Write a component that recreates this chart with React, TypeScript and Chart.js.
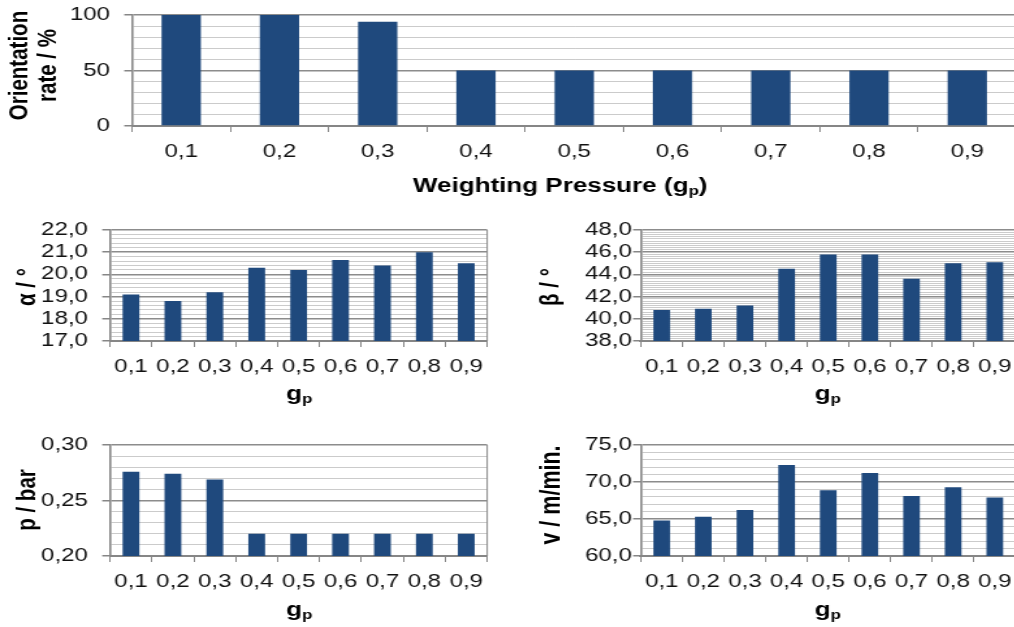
import React, { useEffect, useRef } from 'react';
import { Chart, registerables } from 'chart.js';

Chart.register(...registerables);

// ---------- data ----------
const gpLabels = ['0,1', '0,2', '0,3', '0,4', '0,5', '0,6', '0,7', '0,8', '0,9'];

const orientationRate = [100, 100, 94, 50, 50, 50, 50, 50, 50];
const alphaDeg = [19.1, 18.8, 19.2, 20.3, 20.2, 20.65, 20.4, 21.0, 20.5];
const betaDeg = [40.8, 40.9, 41.2, 44.5, 45.8, 45.8, 43.6, 45.0, 45.1];
const pressureBar = [0.276, 0.274, 0.269, 0.22, 0.22, 0.22, 0.22, 0.22, 0.22];
const speedMMin = [64.8, 65.3, 66.2, 72.3, 68.9, 71.2, 68.1, 69.3, 67.9];

const orientationMajorTicks = [0, 50, 100];
const alphaMajorTicks = [17, 18, 19, 20, 21, 22];
const betaMajorTicks = [38, 40, 42, 44, 46, 48];
const pressureMajorTicks = [0.2, 0.25, 0.3];
const speedMajorTicks = [60, 65, 70, 75];

// ---------- style ----------
const S = 1.3; // horizontal stretch of the picture
const FONT = "'Liberation Sans', Arial, Helvetica, sans-serif";
const BAR = '#1F497D';
const MAJOR = '#8c8c8c';
const MINOR = '#cbcbcb';
const AXIS = '#868686';
const TICK_SIZE = 18.5;
const TITLE_SIZE = 20;
const SUB_SIZE = 13;

Chart.defaults.font.family = FONT;
Chart.defaults.color = '#111';

type Panel = {
  id: string;
  values: number[];
  majorTicks: number[];
  minorStep: number;
  decimals: number;
  box: [number, number, number, number]; // screen left, top, width, height
  plot: [number, number, number, number]; // screen left, top, right, bottom
  yTitle: string[];
  yTitleX: number[];
  yTitleY: number;
  yTitleSize: number;
  xTitle: [string, string, string];
  xTitleX: number;
  xTitleBase: number;
  labelPad: number;
};

const panels: Panel[] = [
  {
    id: 'orientation',
    values: orientationRate,
    majorTicks: orientationMajorTicks,
    minorStep: 10,
    decimals: 0,
    box: [0, 0, 1017, 205],
    plot: [132, 15, 1016, 126],
    yTitle: ['Orientation', 'rate / %'],
    yTitleX: [20, 48],
    yTitleY: 65.5,
    yTitleSize: 20.5,
    xTitle: ['Weighting Pressure (g', 'p', ')'],
    xTitleX: 560,
    xTitleBase: 192,
    labelPad: 11,
  },
  {
    id: 'alpha',
    values: alphaDeg,
    majorTicks: alphaMajorTicks,
    minorStep: 0.2,
    decimals: 1,
    box: [0, 210, 489, 205],
    plot: [110, 230, 487, 341],
    yTitle: ['α / °'],
    yTitleX: [28],
    yTitleY: 287,
    yTitleSize: 20.5,
    xTitle: ['g', 'p', ''],
    xTitleX: 299,
    xTitleBase: 400,
    labelPad: 11,
  },
  {
    id: 'beta',
    values: betaDeg,
    majorTicks: betaMajorTicks,
    minorStep: 0.2,
    decimals: 1,
    box: [500, 210, 517, 205],
    plot: [641, 230, 1016, 341],
    yTitle: ['β / °'],
    yTitleX: [551],
    yTitleY: 287,
    yTitleSize: 20.5,
    xTitle: ['g', 'p', ''],
    xTitleX: 828,
    xTitleBase: 400,
    labelPad: 1,
  },
  {
    id: 'pressure',
    values: pressureBar,
    majorTicks: pressureMajorTicks,
    minorStep: 0.01,
    decimals: 2,
    box: [0, 420, 489, 207],
    plot: [110, 445, 487, 556],
    yTitle: ['p / bar'],
    yTitleX: [28],
    yTitleY: 500,
    yTitleSize: 20.5,
    xTitle: ['g', 'p', ''],
    xTitleX: 299,
    xTitleBase: 616,
    labelPad: 11,
  },
  {
    id: 'speed',
    values: speedMMin,
    majorTicks: speedMajorTicks,
    minorStep: 1,
    decimals: 1,
    box: [500, 420, 517, 207],
    plot: [641, 445, 1016, 556],
    yTitle: ['v / m/min.'],
    yTitleX: [552],
    yTitleY: 495,
    yTitleSize: 21.5,
    xTitle: ['g', 'p', ''],
    xTitleX: 828,
    xTitleBase: 616,
    labelPad: 1,
  },
];

function ChartPanel({ p }: { p: Panel }) {
  const ref = useRef<HTMLCanvasElement>(null);

  useEffect(() => {
    const canvas = ref.current as HTMLCanvasElement;
    const [bl, bt, bw, bh] = p.box;
    const [pl, pt, pr, pb] = p.plot;
    const lw = Math.round(bw / S);
    canvas.width = lw;
    canvas.height = bh;
    canvas.style.width = `${lw * S}px`;
    canvas.style.height = `${bh}px`;

    const lx = (sx: number) => (sx - bl) / S;
    const ly = (sy: number) => sy - bt;
    const min = p.majorTicks[0];
    const max = p.majorTicks[p.majorTicks.length - 1];
    const isMajor = (v: number) => p.majorTicks.some((t) => Math.abs(t - v) < p.minorStep * 1e-3);

    const decor = {
      id: 'decor-' + p.id,
      afterDraw(chart: any) {
        const ctx = chart.ctx as CanvasRenderingContext2D;
        const ca = chart.chartArea;
        ctx.save();
        // right frame line
        ctx.strokeStyle = AXIS;
        ctx.lineWidth = 1;
        ctx.beginPath();
        ctx.moveTo(ca.right, ca.top);
        ctx.lineTo(ca.right, ca.bottom);
        ctx.stroke();

        // y title (rotated)
        ctx.fillStyle = '#000';
        ctx.textAlign = 'center';
        ctx.textBaseline = 'middle';
        ctx.font = `bold ${p.yTitleSize}px ${FONT}`;
        p.yTitle.forEach((line, i) => {
          ctx.save();
          ctx.translate(lx(p.yTitleX[i]), ly(p.yTitleY));
          ctx.rotate(-Math.PI / 2);
          ctx.fillText(line, 0, 0);
          ctx.restore();
        });

        // x title with subscript
        const [a, sub, b] = p.xTitle;
        const big = `bold ${TITLE_SIZE}px ${FONT}`;
        const small = `bold ${SUB_SIZE}px ${FONT}`;
        ctx.font = big;
        const wa = ctx.measureText(a).width;
        const wb = ctx.measureText(b).width;
        ctx.font = small;
        const ws = ctx.measureText(sub).width;
        let x = lx(p.xTitleX) - (wa + ws + wb) / 2;
        const base = ly(p.xTitleBase);
        ctx.textAlign = 'left';
        ctx.textBaseline = 'alphabetic';
        ctx.font = big;
        ctx.fillText(a, x, base);
        x += wa;
        ctx.font = small;
        ctx.fillText(sub, x, base + 3);
        x += ws;
        ctx.font = big;
        ctx.fillText(b, x, base);
        ctx.restore();
      },
    };

    const chart = new Chart(canvas, {
      type: 'bar',
      data: {
        labels: gpLabels,
        datasets: [
          {
            data: p.values,
            backgroundColor: BAR,
            borderWidth: 0,
            barPercentage: 0.4,
            categoryPercentage: 1,
          },
        ],
      },
      options: {
        responsive: false,
        animation: false,
        devicePixelRatio: 1,
        events: [],
        layout: {
          padding: { left: 0, top: ly(pt), right: Math.max(0, lw - lx(pr)), bottom: 0 },
        },
        plugins: {
          legend: { display: false },
          tooltip: { enabled: false },
        },
        scales: {
          x: {
            type: 'category',
            offset: true,
            grid: {
              display: true,
              offset: true,
              drawOnChartArea: false,
              drawTicks: true,
              tickLength: 6,
              color: AXIS,
              lineWidth: 1,
            },
            border: { display: true, color: AXIS, width: 2 },
            ticks: {
              autoSkip: false,
              maxRotation: 0,
              minRotation: 0,
              padding: 9,
              color: '#111',
              font: { size: TICK_SIZE, family: FONT },
            },
            afterFit: (s: any) => {
              s.height = bh - ly(pb);
              s.paddingLeft = 0;
              s.paddingRight = 0;
            },
          },
          y: {
            type: 'linear',
            min,
            max,
            grid: {
              drawTicks: true,
              tickLength: 6,
              color: (c: any) => (c.tick && !isMajor(c.tick.value) ? MINOR : MAJOR),
              lineWidth: (c: any) => (c.tick && !isMajor(c.tick.value) ? 1 : 1.5),
              tickColor: (c: any) => (c.tick && isMajor(c.tick.value) ? AXIS : 'rgba(0,0,0,0)'),
              tickWidth: 1.5,
            },
            border: { display: true, color: AXIS, width: 1.6 },
            ticks: {
              stepSize: p.minorStep,
              autoSkip: false,
              padding: p.labelPad,
              color: '#111',
              font: { size: TICK_SIZE, family: FONT },
              callback: (v: any) => {
                const n = Number(v);
                if (!isMajor(n)) return '';
                return n.toFixed(p.decimals).replace('.', ',');
              },
            },
            afterFit: (s: any) => {
              s.width = lx(pl);
              s.paddingTop = 0;
              s.paddingBottom = 0;
            },
          },
        },
      },
      plugins: [decor],
    } as any);

    return () => chart.destroy();
  }, []);

  return (
    <canvas
      ref={ref}
      style={{ position: 'absolute', left: p.box[0], top: p.box[1], display: 'block' }}
    />
  );
}

export default function App() {
  return (
    <div
      style={{
        position: 'absolute',
        left: 0,
        top: 0,
        width: 1014,
        height: 627,
        overflow: 'hidden',
        background: '#fff',
      }}
    >
      {panels.map((p) => (
        <ChartPanel key={p.id} p={p} />
      ))}
    </div>
  );
}
